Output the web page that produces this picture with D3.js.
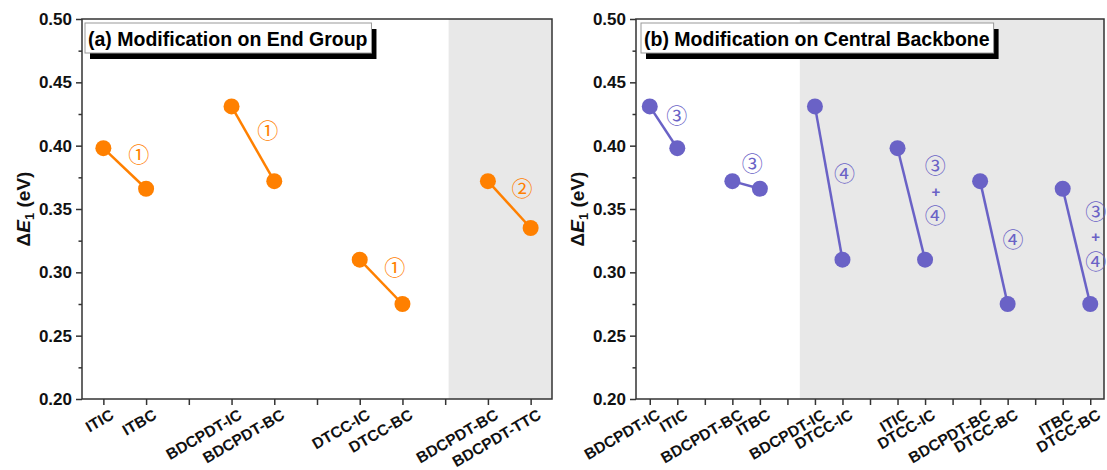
<!DOCTYPE html>
<html>
<head>
<meta charset="utf-8">
<script src="https://cdn.jsdelivr.net/npm/d3@7"></script>
<style>
  body { margin: 0; background: #fff; }
  svg { display: block; font-family: Arial, "Liberation Sans", sans-serif; }
</style>
</head>
<body>
<script>
// panel (a): end group modification
var leftLabels = ["ITIC", "ITBC", "", "BDCPDT-IC", "BDCPDT-BC", "", "DTCC-IC", "DTCC-BC", "", "BDCPDT-BC", "BDCPDT-TTC"];
var leftValues = [0.398, 0.366, null, 0.431, 0.372, null, 0.310, 0.275, null, 0.372, 0.335];
var leftNotes = [
  {t: "\u2460", x: 0.83, y: 0.3926},
  {t: "\u2460", x: 3.85, y: 0.412},
  {t: "\u2460", x: 6.82, y: 0.3034},
  {t: "\u2461", x: 9.8, y: 0.3658}
];

// panel (b): central backbone modification
var rightLabels = ["BDCPDT-IC", "ITIC", "", "BDCPDT-BC", "ITBC", "", "BDCPDT-IC", "DTCC-IC", "", "ITIC", "DTCC-IC", "", "BDCPDT-BC", "DTCC-BC", "", "ITBC", "DTCC-BC"];
var rightValues = [0.431, 0.398, null, 0.372, 0.366, null, 0.431, 0.310, null, 0.398, 0.310, null, 0.372, 0.275, null, 0.366, 0.275];
var rightNotes = [
  {t: "\u2462", x: 0.98, y: 0.4234},
  {t: "\u2462", x: 3.72, y: 0.3855},
  {t: "\u2463", x: 7.07, y: 0.3776},
  {t: "\u2462", x: 10.37, y: 0.384},
  {t: "+", x: 10.39, y: 0.3637},
  {t: "\u2463", x: 10.37, y: 0.3445},
  {t: "\u2463", x: 13.19, y: 0.3255},
  {t: "\u2462", x: 16.2, y: 0.3479},
  {t: "+", x: 16.2, y: 0.3281},
  {t: "\u2463", x: 16.2, y: 0.3084}
];

var yTicks = [0.20, 0.25, 0.30, 0.35, 0.40, 0.45, 0.50];
var yMinor = [0.225, 0.275, 0.325, 0.375, 0.425, 0.475];

var width = 1107, height = 470;
var svg = d3.select("body").append("svg")
    .attr("width", width)
    .attr("height", height);

function drawPanel(o) {
  var x = d3.scaleLinear().domain([-0.5, o.labels.length - 0.5]).range([o.x0, o.x1]);
  var y = d3.scaleLinear().domain([0.20, 0.50]).range([399, 19]);
  var g = svg.append("g");

  // shaded region
  g.append("rect")
    .attr("x", x(o.shade[0]))
    .attr("y", y(0.50))
    .attr("width", x(o.shade[1]) - x(o.shade[0]))
    .attr("height", y(0.20) - y(0.50))
    .attr("fill", "#e8e8e8");

  // frame
  g.append("rect")
    .attr("x", o.x0).attr("y", y(0.50))
    .attr("width", o.x1 - o.x0).attr("height", y(0.20) - y(0.50))
    .attr("fill", "none").attr("stroke", "#333").attr("stroke-width", 1.5);

  // y axis
  var ya = g.append("g").attr("transform", "translate(" + o.x0 + ",0)")
    .call(d3.axisLeft(y).tickValues(yTicks).tickFormat(d3.format(".2f")).tickSize(6).tickPadding(4));
  ya.select(".domain").remove();
  ya.selectAll("line").attr("stroke", "#333").attr("stroke-width", 1.5);
  ya.selectAll("text").attr("font-size", 17).attr("font-weight", "bold").attr("fill", "#111");
  var ym = g.append("g").attr("transform", "translate(" + o.x0 + ",0)")
    .call(d3.axisLeft(y).tickValues(yMinor).tickFormat("").tickSize(3.5));
  ym.select(".domain").remove();
  ym.selectAll("line").attr("stroke", "#333").attr("stroke-width", 1.5);

  // x axis
  var xa = g.append("g").attr("transform", "translate(0," + y(0.20) + ")")
    .call(d3.axisBottom(x).tickValues(d3.range(o.labels.length)).tickFormat(function(i) { return o.labels[i]; }).tickSize(6));
  xa.select(".domain").remove();
  xa.selectAll("line").attr("stroke", "#333").attr("stroke-width", 1.5);
  xa.selectAll("text")
    .attr("font-size", 15.5).attr("font-weight", "bold").attr("fill", "#111")
    .attr("text-anchor", "end")
    .attr("y", 0).attr("dy", 0)
    .attr("transform", "translate(11,19) rotate(-30)");

  // y label
  var yl = g.append("text")
    .attr("transform", "translate(" + o.labelX + "," + y(0.35) + ") rotate(-90)")
    .attr("text-anchor", "middle")
    .attr("font-size", 19).attr("font-weight", "bold").attr("fill", "#111");
  yl.append("tspan").text("\u0394");
  yl.append("tspan").attr("font-style", "italic").text("E");
  yl.append("tspan").attr("font-size", 13).attr("dy", 4).text("1");
  yl.append("tspan").attr("dy", -4).text(" (eV)");

  // connecting lines for each pair
  var pts = o.values.map(function(v, i) { return {i: i, v: v}; }).filter(function(d) { return d.v !== null; });
  var pairs = [];
  for (var k = 0; k < pts.length; k += 2) pairs.push([pts[k], pts[k + 1]]);
  var line = d3.line().x(function(d) { return x(d.i); }).y(function(d) { return y(d.v); });
  g.selectAll(".seg").data(pairs).enter().append("path")
    .attr("d", line)
    .attr("fill", "none").attr("stroke", o.color).attr("stroke-width", 2.5);
  g.selectAll(".dot").data(pts).enter().append("circle")
    .attr("cx", function(d) { return x(d.i); })
    .attr("cy", function(d) { return y(d.v); })
    .attr("r", 8)
    .attr("fill", o.color);

  // circled numbers
  g.selectAll(".note").data(o.notes).enter().append("text")
    .attr("x", function(d) { return x(d.x); })
    .attr("y", function(d) { return y(d.y); })
    .attr("dy", "0.35em")
    .attr("text-anchor", "middle")
    .attr("font-family", function(d) { return d.t === "+" ? "Arial, sans-serif" : "'Noto Sans CJK SC', 'DejaVu Sans', sans-serif"; })
    .attr("font-size", function(d) { return d.t === "+" ? 15 : 21; })
    .attr("font-weight", function(d) { return d.t === "+" ? "bold" : "normal"; })
    .attr("fill", o.color)
    .text(function(d) { return d.t; });

  // title box with shadow
  var tb = g.append("g");
  var tt = tb.append("text")
    .attr("x", o.titleX + 3).attr("y", 46)
    .attr("font-size", 19.5).attr("font-weight", "bold").attr("fill", "#000")
    .text(o.title);
  var bw = tt.node().getComputedTextLength() + 7;
  tb.insert("rect", "text")
    .attr("x", o.titleX + 5).attr("y", 29).attr("width", bw).attr("height", 30)
    .attr("fill", "#000");
  tb.insert("rect", "text")
    .attr("x", o.titleX).attr("y", 23).attr("width", bw).attr("height", 30)
    .attr("fill", "#fff").attr("stroke", "#999").attr("stroke-width", 1);
}

drawPanel({
  labels: leftLabels, values: leftValues, notes: leftNotes,
  x0: 82, x1: 552, shade: [8.08, 10.5], color: "#ff8000",
  labelX: 30, titleX: 85, title: "(a) Modification on End Group"
});
drawPanel({
  labels: rightLabels, values: rightValues, notes: rightNotes,
  x0: 636, x1: 1104, shade: [5.45, 16.5], color: "#6a62c6",
  labelX: 584, titleX: 641, title: "(b) Modification on Central Backbone"
});
</script>
</body>
</html>
